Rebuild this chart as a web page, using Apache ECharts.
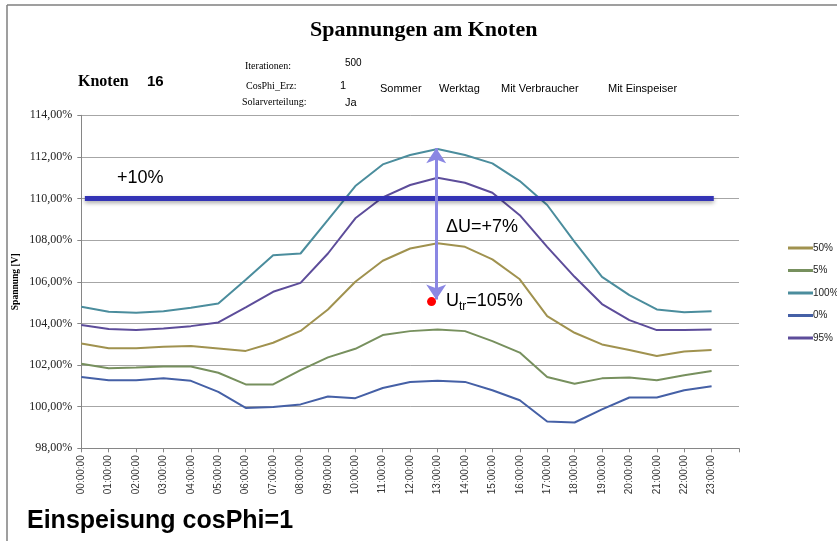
<!DOCTYPE html>
<html>
<head>
<meta charset="utf-8">
<script src="https://cdn.jsdelivr.net/npm/echarts@6/dist/echarts.min.js"></script>
<style>
  html, body { margin: 0; padding: 0; background: #fff; }
  #chart { width: 837px; height: 541px; }
</style>
</head>
<body>
<div id="chart"></div>
<script>
const hours = ["00:00:00", "01:00:00", "02:00:00", "03:00:00", "04:00:00", "05:00:00",
  "06:00:00", "07:00:00", "08:00:00", "09:00:00", "10:00:00", "11:00:00",
  "12:00:00", "13:00:00", "14:00:00", "15:00:00", "16:00:00", "17:00:00",
  "18:00:00", "19:00:00", "20:00:00", "21:00:00", "22:00:00", "23:00:00"];

const v50 = [103.04, 102.81, 102.81, 102.88, 102.92, 102.80, 102.68, 103.07, 103.64, 104.67, 106.00, 107.01,
  107.60, 107.85, 107.68, 107.08, 106.12, 104.35, 103.55, 102.99, 102.72, 102.43, 102.65, 102.72];
const v5 = [102.06, 101.85, 101.88, 101.93, 101.93, 101.63, 101.07, 101.07, 101.76, 102.37, 102.78, 103.44,
  103.63, 103.71, 103.63, 103.15, 102.60, 101.43, 101.10, 101.36, 101.40, 101.27, 101.51, 101.71];
const v100 = [104.80, 104.56, 104.51, 104.59, 104.75, 104.96, 106.10, 107.28, 107.36, 108.97, 110.60, 111.64,
  112.09, 112.38, 112.09, 111.69, 110.84, 109.69, 107.92, 106.24, 105.36, 104.67, 104.54, 104.58];
const v0 = [101.43, 101.27, 101.27, 101.36, 101.24, 100.71, 99.94, 99.98, 100.11, 100.49, 100.41, 100.90,
  101.19, 101.24, 101.19, 100.79, 100.31, 99.29, 99.24, 99.87, 100.44, 100.44, 100.79, 100.98];
const v95 = [103.92, 103.73, 103.68, 103.76, 103.87, 104.05, 104.77, 105.52, 105.95, 107.36, 109.05, 110.06,
  110.65, 111.00, 110.76, 110.28, 109.20, 107.68, 106.24, 104.93, 104.16, 103.68, 103.68, 103.71];

const seriesNames = ["50%", "5%", "100%", "0%", "95%"];
const seriesValues = [v50, v5, v100, v0, v95];
const seriesColors = ["#A0924F", "#77905E", "#4B8D9D", "#4560A6", "#5D4D9A"];

// annotations (in data units)
const limitLine = 110;
const arrowTop = 112.42, arrowBottom = 105.15, arrowX = 12.95;
const utrPoint = [12.78, 105.05];

const chart = echarts.init(document.getElementById("chart"));

const lines = seriesValues.map((vals, k) => ({
  name: seriesNames[k],
  type: "line",
  data: vals.map((v, i) => [i, v]),
  symbol: "none",
  lineStyle: { width: 2, color: seriesColors[k] },
  itemStyle: { color: seriesColors[k] },
  z: 3,
}));

lines.push({
  name: "annot",
  type: "line",
  data: [],
  z: 5,
  markLine: {
    silent: true,
    animation: false,
    label: { show: false },
    data: [
      [
        { coord: [0.13, limitLine], symbol: "none",
          lineStyle: { color: "#3333B5", width: 5, type: "solid",
            shadowColor: "rgba(0,0,0,0.35)", shadowBlur: 4, shadowOffsetY: 2 } },
        { coord: [23.08, limitLine], symbol: "none" },
      ],
      [
        { coord: [arrowX, arrowTop], symbol: "arrow", symbolSize: [15, 15],
          lineStyle: { color: "#8A87E3", width: 3, type: "solid" } },
        { coord: [arrowX, arrowBottom], symbol: "arrow", symbolSize: [15, 15] },
      ],
    ],
  },
  markPoint: {
    silent: true,
    animation: false,
    data: [{ coord: utrPoint, symbol: "circle", symbolSize: 9, itemStyle: { color: "#FF0000" } }],
    label: { show: false },
  },
});

const serif = "Liberation Serif";
const sans = "Liberation Sans";

chart.setOption({
  animation: false,
  backgroundColor: "#fff",
  grid: { left: 81.3, right: 98, top: 115.3, bottom: 92.7 },
  legend: {
    data: seriesNames,
    orient: "vertical",
    left: 783,
    top: 238,
    itemWidth: 25,
    itemHeight: 3,
    itemGap: 12.5,
    icon: "rect",
    textStyle: { fontFamily: sans, fontSize: 10, color: "#222", padding: [0, 0, 0, -5] },
  },
  xAxis: {
    type: "value",
    min: 0,
    max: 24,
    interval: 1,
    axisLine: { lineStyle: { color: "#868686" } },
    axisTick: { show: true, length: 4, lineStyle: { color: "#868686" } },
    splitLine: { show: false },
    axisLabel: {
      rotate: 90,
      fontFamily: sans,
      fontSize: 10,
      color: "#333",
      margin: 7,
      formatter: (v) => hours[v] || "",
    },
  },
  yAxis: {
    type: "value",
    min: 98,
    max: 114,
    interval: 2,
    name: "Spannung [V]",
    nameLocation: "middle",
    nameGap: 61,
    nameMoveOverlap: false,
    nameTextStyle: { fontFamily: serif, fontWeight: "bold", fontSize: 9.5, color: "#000" },
    axisLine: { show: true, lineStyle: { color: "#868686" } },
    axisTick: { show: true, length: 4, lineStyle: { color: "#868686" } },
    splitLine: { lineStyle: { color: "#A6A6A6", width: 1 } },
    axisLabel: {
      fontFamily: serif,
      fontSize: 12,
      color: "#222",
      margin: 9,
      formatter: (v) => v.toFixed(2).replace(".", ",") + "%",
    },
  },
  graphic: [
    { type: "line", shape: { x1: 7, y1: 5, x2: 837, y2: 5 }, style: { stroke: "#7F7F7F", lineWidth: 1.5 } },
    { type: "line", shape: { x1: 7, y1: 5, x2: 7, y2: 541 }, style: { stroke: "#7F7F7F", lineWidth: 1.5 } },
    { type: "text", left: 310, top: 19, style: { text: "Spannungen am Knoten", font: "bold 22px 'Liberation Serif'", fill: "#000" } },
    { type: "text", x: 78, y: 74, style: { text: "Knoten", font: "bold 16px 'Liberation Serif'", fill: "#000" } },
    { type: "text", x: 147, y: 74, style: { text: "16", font: "bold 15px 'Liberation Sans'", fill: "#000" } },
    { type: "text", x: 245, y: 61, style: { text: "Iterationen:", font: "10px 'Liberation Serif'", fill: "#000" } },
    { type: "text", x: 345, y: 58, style: { text: "500", font: "10px 'Liberation Sans Narrow', 'Liberation Sans'", fill: "#000" } },
    { type: "text", x: 246, y: 81, style: { text: "CosPhi_Erz:", font: "10px 'Liberation Serif'", fill: "#000" } },
    { type: "text", x: 340, y: 80, style: { text: "1", font: "11px 'Liberation Sans Narrow', 'Liberation Sans'", fill: "#000" } },
    { type: "text", x: 242, y: 97, style: { text: "Solarverteilung:", font: "10px 'Liberation Serif'", fill: "#000" } },
    { type: "text", x: 345, y: 97, style: { text: "Ja", font: "11px 'Liberation Sans Narrow', 'Liberation Sans'", fill: "#000" } },
    { type: "text", x: 380, y: 83, style: { text: "Sommer", font: "11px 'Liberation Sans Narrow', 'Liberation Sans'", fill: "#000" } },
    { type: "text", x: 439, y: 83, style: { text: "Werktag", font: "11px 'Liberation Sans Narrow', 'Liberation Sans'", fill: "#000" } },
    { type: "text", x: 501, y: 83, style: { text: "Mit Verbraucher", font: "11px 'Liberation Sans Narrow', 'Liberation Sans'", fill: "#000" } },
    { type: "text", x: 608, y: 83, style: { text: "Mit Einspeiser", font: "11px 'Liberation Sans Narrow', 'Liberation Sans'", fill: "#000" } },
    { type: "text", x: 117, y: 169, style: { text: "+10%", font: "18px 'Liberation Sans'", fill: "#000" } },
    { type: "text", x: 446, y: 218, style: { text: "ΔU=+7%", font: "18px 'Liberation Sans'", fill: "#000" } },
    {
      type: "text", x: 446, y: 292,
      style: {
        text: "{a|U}{b|tr}{a|=105%}",
        rich: {
          a: { fontFamily: sans, fontSize: 18, fill: "#000", verticalAlign: "bottom" },
          b: { fontFamily: sans, fontSize: 12, fill: "#000", verticalAlign: "bottom", padding: [0, 0, -3, 0] },
        },
      },
    },
    { type: "text", x: 27, y: 509, style: { text: "Einspeisung cosPhi=1", font: "bold 25px 'Liberation Sans'", fill: "#000" } },
  ],
  series: lines,
});
</script>
</body>
</html>
